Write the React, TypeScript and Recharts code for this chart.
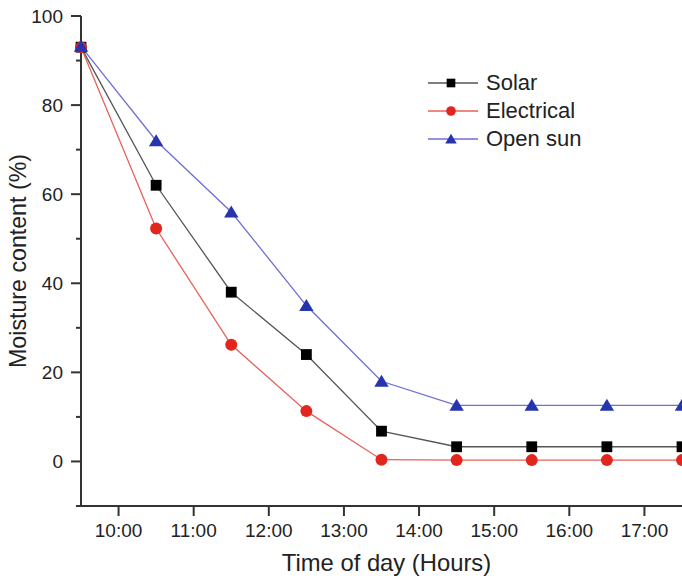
import React from "react";
import { LineChart, Line, XAxis, YAxis, Legend, Label } from "recharts";

// hours of measurement (9:30 ... 17:30)
const hours = [9.5, 10.5, 11.5, 12.5, 13.5, 14.5, 15.5, 16.5, 17.5];
const solar = [93, 62, 38, 24, 6.8, 3.3, 3.3, 3.3, 3.3];
const electrical = [93, 52.3, 26.2, 11.3, 0.4, 0.3, 0.3, 0.3, 0.3];
const openSun = [93.2, 72, 56, 35, 18, 12.6, 12.6, 12.6, 12.6];

const xTicks = [10, 11, 12, 13, 14, 15, 16, 17];
const xTickLabels = ["10:00", "11:00", "12:00", "13:00", "14:00", "15:00", "16:00", "17:00"];
const yTicks = [-10, 0, 10, 20, 30, 40, 50, 60, 70, 80, 90, 100];

const data = hours.map((h, i) => ({
  hour: h,
  solar: solar[i],
  electrical: electrical[i],
  openSun: openSun[i],
}));

const FONT = '"Liberation Sans", Arial, sans-serif';
const INK = "#222";
const AXIS_X = 81;

const series = [
  { key: "solar", name: "Solar", line: "#555", fill: "#000", shape: "square" },
  { key: "electrical", name: "Electrical", line: "#e8615b", fill: "#e2261e", shape: "circle" },
  { key: "openSun", name: "Open sun", line: "#6e6ed6", fill: "#2634ad", shape: "triangle" },
];

function Marker({ cx, cy, shape, fill, s = 1 }: any) {
  if (cx == null || cy == null) return null;
  if (shape === "square") {
    const h = 5.4 * s;
    return <rect x={cx - h} y={cy - h} width={h * 2} height={h * 2} fill={fill} />;
  }
  if (shape === "circle") {
    return <circle cx={cx} cy={cy} r={6 * s} fill={fill} />;
  }
  const w = 7.2 * s;
  const h = 6.5 * s;
  return (
    <polygon
      points={`${cx},${cy - h} ${cx + w},${cy + h * 0.85} ${cx - w},${cy + h * 0.85}`}
      fill={fill}
    />
  );
}

// library draws 10px tick lines; minor ones get their outer half masked
function renderYTick(props: any) {
  const { y, payload } = props;
  const v = payload.value;
  const major = v >= 0 && v % 20 === 0;
  if (!major) {
    return (
      <rect key={`yt-${v}`} x={AXIS_X - 12} y={y - 2} width={7} height={4} fill="#fff" />
    );
  }
  return (
    <text
      key={`yt-${v}`}
      x={AXIS_X - 18}
      y={y}
      textAnchor="end"
      dominantBaseline="central"
      fontFamily={FONT}
      fontSize={19}
      fill={INK}
    >
      {v}
    </text>
  );
}

const LegendBox = () => (
  <div style={{ fontFamily: FONT, fontSize: 22, color: INK }}>
    {series.map((s) => (
      <div key={s.key} style={{ display: "flex", alignItems: "center", height: 28 }}>
        <svg width={58} height={28} style={{ display: "block" }}>
          <line x1={0} x2={50} y1={14} y2={14} stroke={s.line} strokeWidth={1.3} />
          <Marker cx={23} cy={14} shape={s.shape} fill={s.fill} s={0.8} />
        </svg>
        <span style={{ lineHeight: "28px" }}>{s.name}</span>
      </div>
    ))}
  </div>
);

export default function App() {
  return (
    <div style={{ position: "absolute", left: 0, top: 0, background: "#fff" }}>
      <LineChart
        width={682}
        height={580}
        data={data}
        margin={{ top: 16, right: 0, left: 0, bottom: 0 }}
      >
        <XAxis
          dataKey="hour"
          type="number"
          domain={[9.5, 17.5]}
          ticks={xTicks}
          tickFormatter={(v: number) => xTickLabels[xTicks.indexOf(v)]}
          height={74}
          tickSize={10}
          tickMargin={8}
          axisLine={{ stroke: "#333", strokeWidth: 2 }}
          tickLine={{ stroke: "#333", strokeWidth: 2 }}
          tick={{ fill: INK, fontSize: 19, fontFamily: FONT }}
        >
          <Label
            content={(p: any) => {
              const vb = p.viewBox || { x: 81, y: 506, width: 601 };
              return (
                <text
                  x={vb.x + vb.width / 2 + 5}
                  y={571}
                  textAnchor="middle"
                  fontFamily={FONT}
                  fontSize={23.8}
                  fill={INK}
                >
                  Time of day (Hours)
                </text>
              );
            }}
          />
        </XAxis>
        <YAxis
          type="number"
          domain={[-10, 100]}
          ticks={yTicks}
          width={AXIS_X}
          interval={0}
          tickSize={10}
          tickMargin={8}
          tickLine={{ stroke: "#333", strokeWidth: 2 }}
          axisLine={{ stroke: "#333", strokeWidth: 2 }}
          tick={renderYTick}
        >
          <Label
            content={(p: any) => {
              const vb = p.viewBox || { x: 0, y: 16, height: 490 };
              const cy = vb.y + vb.height / 2;
              return (
                <text
                  x={18}
                  y={cy}
                  transform={`rotate(-90, 18, ${cy})`}
                  textAnchor="middle"
                  dominantBaseline="central"
                  fontFamily={FONT}
                  fontSize={23.2}
                  fill={INK}
                >
                  Moisture content (%)
                </text>
              );
            }}
          />
        </YAxis>
        <Legend
          layout="vertical"
          align="center"
          verticalAlign="middle"
          content={() => <LegendBox />}
          wrapperStyle={{ position: "absolute", left: 428, top: 69, width: 200 }}
        />
        {series.map((s) => (
          <Line
            key={s.key}
            dataKey={s.key}
            name={s.name}
            type="linear"
            stroke={s.line}
            strokeWidth={1.3}
            isAnimationActive={false}
            dot={(p: any) => (
              <Marker key={`${s.key}-${p.index}`} cx={p.cx} cy={p.cy} shape={s.shape} fill={s.fill} />
            )}
            activeDot={false}
          />
        ))}
      </LineChart>
    </div>
  );
}
